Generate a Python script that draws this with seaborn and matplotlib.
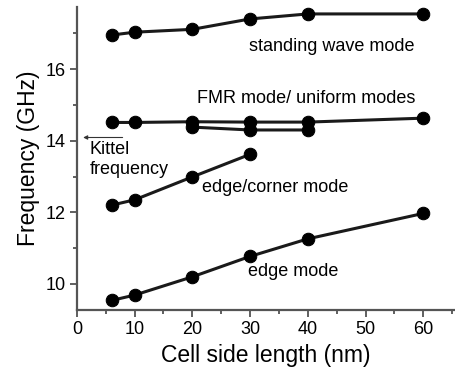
import pandas as pd
import numpy as np
import seaborn as sns
import matplotlib.pyplot as plt
from matplotlib.ticker import MultipleLocator

# cell side length (nm) and mode frequencies (GHz)
x_standing = [6, 10, 20, 30, 40, 60]
f_standing = [16.95, 17.03, 17.11, 17.40, 17.54, 17.54]

x_fmr1 = [6, 10, 20, 30, 40, 60]
f_fmr1 = [14.51, 14.51, 14.53, 14.52, 14.52, 14.63]

x_fmr2 = [20, 30, 40]
f_fmr2 = [14.38, 14.30, 14.30]

x_corner = [6, 10, 20, 30]
f_corner = [12.20, 12.35, 12.99, 13.62]

x_edge = [6, 10, 20, 30, 40, 60]
f_edge = [9.54, 9.69, 10.20, 10.77, 11.26, 11.97]

kittel = 14.09

sns.set_style('ticks')
plt.rcParams['font.family'] = ['Liberation Sans', 'DejaVu Sans']
plt.rcParams['text.color'] = 'black'
plt.rcParams['axes.labelcolor'] = 'black'
plt.rcParams['xtick.labelcolor'] = 'black'
plt.rcParams['ytick.labelcolor'] = 'black'

fig = plt.figure(figsize=(4.55, 3.75), dpi=100)
ax = fig.add_axes([0.169, 0.173, 0.831, 0.808])

series = [(x_standing, f_standing), (x_fmr1, f_fmr1), (x_fmr2, f_fmr2),
          (x_corner, f_corner), (x_edge, f_edge)]
for xs, fs in series:
    d = pd.DataFrame({'x': xs, 'f': fs})
    sns.lineplot(data=d, x='x', y='f', ax=ax, color='#1a1a1a', lw=2.2,
                 marker='o', markersize=9, markeredgecolor='black',
                 markerfacecolor='black', zorder=3)

ax.set_xlim(0, 65.5)
ax.set_ylim(9.27, 17.73)
ax.xaxis.set_major_locator(MultipleLocator(10))
ax.xaxis.set_minor_locator(MultipleLocator(5))
ax.yaxis.set_major_locator(MultipleLocator(2))
ax.yaxis.set_minor_locator(MultipleLocator(1))
ax.tick_params(which='both', direction='out', color='#444444', width=1.2)
ax.tick_params(which='major', length=5, labelsize=13, pad=3)
ax.tick_params(which='minor', length=3)
for s in ['top', 'right']:
    ax.spines[s].set_visible(False)
for s in ['left', 'bottom']:
    ax.spines[s].set_color('#555555')
    ax.spines[s].set_linewidth(1.6)

ax.set_xlabel('Cell side length (nm)', fontsize=16.5, labelpad=4)
ax.set_ylabel('Frequency (GHz)', fontsize=16.5, labelpad=4)

ax.text(29.9, 16.64, 'standing wave mode', fontsize=13, va='center')
ax.text(20.8, 15.17, 'FMR mode/ uniform modes', fontsize=13, va='center')
ax.text(21.6, 12.70, 'edge/corner mode', fontsize=13, va='center')
ax.text(29.6, 10.34, 'edge mode', fontsize=13, va='center')
ax.text(2.2, 13.47, 'Kittel\nfrequency', fontsize=13, va='center',
        linespacing=1.2)
ax.annotate('', xy=(0.6, kittel), xytext=(8.4, kittel),
            arrowprops=dict(arrowstyle='-|>', color='#333333', lw=0.8,
                            mutation_scale=6))

fig.savefig('out.png', dpi=100)
